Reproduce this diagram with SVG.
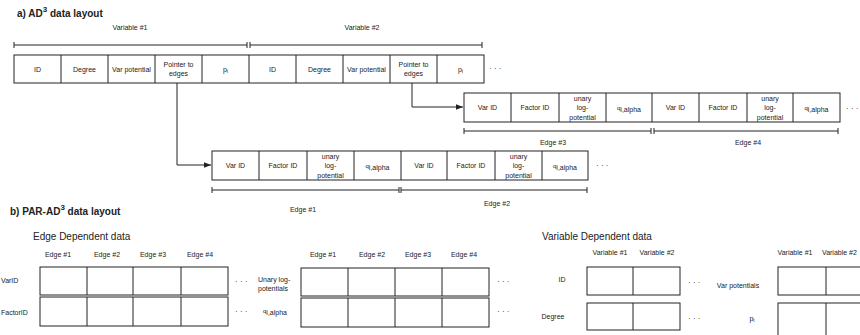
<svg xmlns="http://www.w3.org/2000/svg" width="860" height="335" viewBox="0 0 860 335">
<defs>
<style>
text{font-family:"Liberation Sans",Arial,sans-serif;fill:#222;}
.c{font-size:7px;text-anchor:middle;dominant-baseline:central;}
.l{font-size:7px;dominant-baseline:central;}
.t{font-size:10px;font-weight:bold;}
.h{font-size:10px;}
.box{fill:#fff;stroke:#222;stroke-width:1;}
.ln{fill:none;stroke:#222;stroke-width:1;}
.dots{font-size:8px;dominant-baseline:central;}
</style>
<marker id="arr" viewBox="0 0 10 10" refX="10" refY="5" markerWidth="7" markerHeight="7" orient="auto" markerUnits="userSpaceOnUse">
<path d="M0,1 L10,5 L0,9 z" fill="#222"/>
</marker>
</defs>
<rect width="860" height="335" fill="#fff"/>

<g id="title-a"><text class="t" x="17" y="17">a) AD<tspan font-size="8" dy="-5">3</tspan><tspan dy="5"> data layout</tspan></text></g>

<g id="variable-array">
<rect class="box" x="14" y="55" width="470" height="28"/>
<path class="ln" d="M61,55V83M108,55V83M155,55V83M202,55V83M249,55V83M296,55V83M343,55V83M390,55V83M437,55V83"/>
<text class="c" x="37.5" y="69">ID</text>
<text class="c" x="84.5" y="69">Degree</text>
<text class="c" x="131.5" y="69">Var potential</text>
<text class="c" x="178.5" y="64">Pointer to</text>
<text class="c" x="178.5" y="73">edges</text>
<text class="c" x="225.5" y="69">p<tspan font-size="5.5" dy="2">i</tspan></text>
<text class="c" x="272.5" y="69">ID</text>
<text class="c" x="319.5" y="69">Degree</text>
<text class="c" x="366.5" y="69">Var potential</text>
<text class="c" x="413.5" y="64">Pointer to</text>
<text class="c" x="413.5" y="73">edges</text>
<text class="c" x="460.5" y="69">p<tspan font-size="5.5" dy="2">i</tspan></text>
<text class="dots" x="489" y="68">· · ·</text>
<path class="ln" d="M14,45H247M14,42V48M247,42V48M250,45H482M250,42V48M482,42V48"/>
<text class="c" x="130" y="27">Variable #1</text>
<text class="c" x="362" y="27">Variable #2</text>
</g>

<g id="edges-row-1">
<rect class="box" x="464" y="93" width="376" height="29"/>
<path class="ln" d="M511,93V122M559,93V122M606,93V122M652,93V122M699,93V122M747,93V122M793,93V122"/>
<text class="c" x="487.5" y="107.5">Var ID</text>
<text class="c" x="535" y="107.5">Factor ID</text>
<text class="c" x="582.5" y="98">unary</text>
<text class="c" x="582.5" y="107.5">log-</text>
<text class="c" x="582.5" y="117">potential</text>
<text class="c" x="629" y="107.5"><tspan font-size="6">q</tspan><tspan font-size="7" dy="1">i,alpha</tspan></text>
<text class="c" x="675.5" y="107.5">Var ID</text>
<text class="c" x="723" y="107.5">Factor ID</text>
<text class="c" x="770" y="98">unary</text>
<text class="c" x="770" y="107.5">log-</text>
<text class="c" x="770" y="117">potential</text>
<text class="c" x="816.5" y="107.5"><tspan font-size="6">q</tspan><tspan font-size="7" dy="1">i,alpha</tspan></text>
<text class="dots" x="846" y="108" font-size="7">· · ·</text>
<path class="ln" d="M464,131H651M464,128V134M651,128V134M654,131H838M654,128V134M838,128V134"/>
<text class="c" x="553" y="142">Edge #3</text>
<text class="c" x="748" y="142">Edge #4</text>
</g>

<g id="edges-row-2">
<rect class="box" x="212" y="151" width="376" height="29"/>
<path class="ln" d="M259,151V180M307,151V180M354,151V180M401,151V180M447,151V180M495,151V180M542,151V180"/>
<text class="c" x="235.5" y="165.5">Var ID</text>
<text class="c" x="283" y="165.5">Factor ID</text>
<text class="c" x="330.5" y="156">unary</text>
<text class="c" x="330.5" y="165.5">log-</text>
<text class="c" x="330.5" y="175">potential</text>
<text class="c" x="377.5" y="165.5"><tspan font-size="6">q</tspan><tspan font-size="7" dy="1">i,alpha</tspan></text>
<text class="c" x="424" y="165.5">Var ID</text>
<text class="c" x="471" y="165.5">Factor ID</text>
<text class="c" x="518.5" y="156">unary</text>
<text class="c" x="518.5" y="165.5">log-</text>
<text class="c" x="518.5" y="175">potential</text>
<text class="c" x="565" y="165.5"><tspan font-size="6">q</tspan><tspan font-size="7" dy="1">i,alpha</tspan></text>
<text class="dots" x="596" y="165">· · ·</text>
<path class="ln" d="M212,190H399M212,187V193M399,187V193M401,190H587M401,187V193M587,187V193"/>
<text class="c" x="303" y="209">Edge #1</text>
<text class="c" x="497" y="203">Edge #2</text>
</g>

<g id="connectors">
<path class="ln" d="M177,83V165H211" marker-end="url(#arr)"/>
<path class="ln" d="M412,83V107H463" marker-end="url(#arr)"/>
</g>

<g id="title-b"><text class="t" x="10" y="215">b) PAR-AD<tspan font-size="8" dy="-5">3</tspan><tspan dy="5"> data layout</tspan></text></g>

<g id="edge-dependent-1">
<text class="h" x="33" y="240">Edge Dependent data</text>
<text class="c" x="58" y="254">Edge #1</text>
<text class="c" x="107" y="254">Edge #2</text>
<text class="c" x="153" y="254">Edge #3</text>
<text class="c" x="200" y="254">Edge #4</text>
<rect class="box" x="40" y="267" width="188" height="28"/>
<rect class="box" x="40" y="297" width="188" height="29"/>
<path class="ln" d="M87,267V295M133,267V295M181,267V295M87,297V326M133,297V326M181,297V326"/>
<text class="l" x="1" y="280">VarID</text>
<text class="l" x="1" y="312">FactorID</text>
<text class="dots" x="235" y="281">· · ·</text>
<text class="dots" x="235" y="311">· · ·</text>
</g>

<g id="edge-dependent-2">
<text class="l" x="258" y="279">Unary log-</text>
<text class="l" x="258" y="288">potentials</text>
<text class="l" x="263" y="311"><tspan font-size="6">q</tspan><tspan dy="1">i,alpha</tspan></text>
<text class="c" x="323" y="254">Edge #1</text>
<text class="c" x="372" y="254">Edge #2</text>
<text class="c" x="418" y="254">Edge #3</text>
<text class="c" x="464" y="254">Edge #4</text>
<rect class="box" x="301" y="268" width="188" height="28"/>
<rect class="box" x="301" y="298" width="188" height="29"/>
<path class="ln" d="M348,268V296M395,268V296M442,268V296M348,298V327M395,298V327M442,298V327"/>
<text class="dots" x="497" y="281">· · ·</text>
<text class="dots" x="497" y="311">· · ·</text>
</g>

<g id="variable-dependent-1">
<text class="h" x="542" y="240">Variable Dependent data</text>
<text class="c" x="610" y="252">Variable #1</text>
<text class="c" x="657" y="252">Variable #2</text>
<rect class="box" x="587" y="267" width="93" height="28"/>
<rect class="box" x="587" y="303" width="93" height="27"/>
<path class="ln" d="M633,267V295M633,303V330"/>
<text class="c" x="562" y="279">ID</text>
<text class="c" x="553" y="316">Degree</text>
<text class="dots" x="688" y="282">· · ·</text>
<text class="dots" x="688" y="318">· · ·</text>
</g>

<g id="variable-dependent-2">
<text class="c" x="738" y="285">Var potentials</text>
<text class="c" x="752" y="318">p<tspan font-size="5.5" dy="2">i</tspan></text>
<text class="c" x="795" y="252">Variable #1</text>
<text class="l" x="822" y="252">Variable #2</text>
<rect class="box" x="778" y="267" width="96" height="28"/>
<rect class="box" x="778" y="303" width="96" height="40"/>
<path class="ln" d="M826,267V295M826,303V343"/>
</g>
</svg>
